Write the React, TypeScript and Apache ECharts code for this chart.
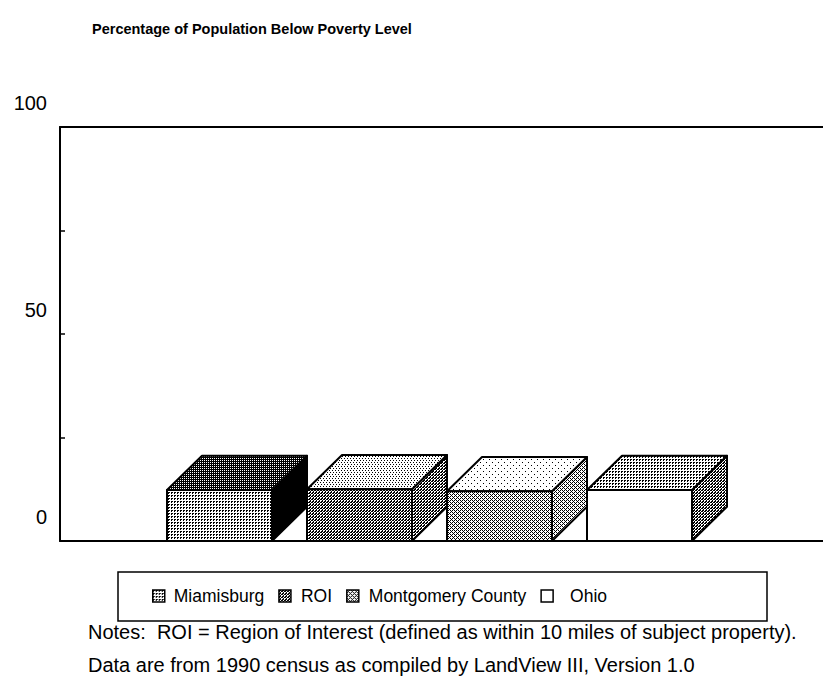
import React, { useEffect, useRef } from "react";
import * as echarts from "echarts";

const TITLE = "Percentage of Population Below Poverty Level";
const categories = ["Miamisburg", "ROI", "Montgomery County", "Ohio"];
const povertyPct = [12.3, 12.5, 12.0, 12.3];
const yMin = 0;
const yMax = 100;
const yInterval = 25;
const yLabelValues = [0, 50, 100];
const notes = [
  "Notes:  ROI = Region of Interest (defined as within 10 miles of subject property).",
  "Data are from 1990 census as compiled by LandView III, Version 1.0",
];

const FONT = "'Liberation Sans', Arial, Helvetica, sans-serif";

const TILES: Record<string, string[]> = {
  white: ["."],
  black: ["#"],
  speck: ["#.....", "......", "......", "...#..", "......", "......"],
  light: ["#..", "...", "..#", "..."],
  p30: ["##.", "#..", "..."],
  p45: ["#.#.", ".#..", "#.#.", "...#"],
  p55: ["##.", "#.#", ".#."],
  p70: [".#", "##"],
};

function makePattern(rows: string[]) {
  const h = rows.length;
  const w = rows[0].length;
  const c = document.createElement("canvas");
  c.width = w;
  c.height = h;
  const ctx = c.getContext("2d")!;
  ctx.fillStyle = "#ffffff";
  ctx.fillRect(0, 0, w, h);
  ctx.fillStyle = "#000000";
  rows.forEach((r, y) =>
    r.split("").forEach((ch, x) => {
      if (ch === "#") ctx.fillRect(x, y, 1, 1);
    })
  );
  return { image: c, repeat: "repeat" } as any;
}

// [front, top, side] texture per category
const faceTiles = [
  ["p30", "p70", "black"],
  ["p55", "light", "p55"],
  ["p45", "speck", "p45"],
  ["white", "p30", "p55"],
];

export default function App() {
  const ref = useRef<HTMLDivElement>(null);
  useEffect(() => {
    if (!ref.current) return;
    const chart = echarts.init(ref.current, undefined, { renderer: "svg" });
    const pats = faceTiles.map((f) => f.map((k) => makePattern(TILES[k])));

    const renderItem = (params: any, api: any) => {
      const idx = api.value(0);
      const val = api.value(1);
      const base = api.coord([idx, 0]);
      const top = api.coord([idx, val]);
      const band = api.size([1, 0])[0];
      const w = band * 0.75;
      const dx = band * 0.25;
      const dy = band * 0.245;
      const x0 = base[0] - w / 2;
      const x1 = x0 + w;
      const yb = base[1];
      const yt = top[1];
      const p = pats[params.seriesIndex];
      const stroke = { stroke: "#000", lineWidth: 2, lineJoin: "round" };
      return {
        type: "group",
        children: [
          {
            type: "polygon",
            shape: { points: [[x1, yt], [x1 + dx, yt - dy], [x1 + dx, yb - dy], [x1, yb]] },
            style: { fill: p[2], ...stroke },
          },
          {
            type: "polygon",
            shape: { points: [[x0, yt], [x0 + dx, yt - dy], [x1 + dx, yt - dy], [x1, yt]] },
            style: { fill: p[1], ...stroke },
          },
          {
            type: "rect",
            shape: { x: x0, y: yt, width: w, height: yb - yt },
            style: { fill: p[0], ...stroke },
          },
        ],
      };
    };

    const series = categories.map((name, i) => ({
      type: "custom",
      name,
      xAxisIndex: 2,
      yAxisIndex: 1,
      clip: false,
      itemStyle: { color: pats[i][0], borderColor: "#000", borderWidth: 1.5 },
      renderItem,
      data: [[i, povertyPct[i]]],
    }));

    const frameLine = { show: true, lineStyle: { color: "#000", width: 2 } };

    chart.setOption({
      animation: false,
      backgroundColor: "#fff",
      textStyle: { fontFamily: FONT },
      grid: [
        { left: 60, top: 127, right: 0, bottom: 148, show: false },
        { left: 149.5, top: 127, width: 560, bottom: 148, show: false },
      ],
      xAxis: [
        {
          type: "category", gridIndex: 0, data: categories, position: "bottom",
          axisLine: frameLine, axisTick: { show: false }, axisLabel: { show: false },
        },
        {
          type: "category", gridIndex: 0, data: categories, position: "top",
          axisLine: frameLine, axisTick: { show: false }, axisLabel: { show: false },
        },
        { type: "category", gridIndex: 1, data: categories, show: false },
      ],
      yAxis: [
        {
          type: "value",
          gridIndex: 0,
          min: yMin,
          max: yMax,
          interval: yInterval,
          axisLine: frameLine,
          axisTick: { show: true, inside: true, length: 5, lineStyle: { color: "#000", width: 1.5 } },
          splitLine: { show: false },
          axisLabel: {
            show: true,
            color: "#000",
            fontSize: 20,
            fontFamily: FONT,
            margin: 13,
            verticalAlign: "bottom",
            lineHeight: 48,
            formatter: (v: number) => (yLabelValues.indexOf(v) >= 0 ? String(v) : ""),
          },
        },
        { type: "value", gridIndex: 1, min: yMin, max: yMax, show: false },
      ],
      legend: {
        data: [
          { name: categories[0], textStyle: { padding: [0, 7, 0, 4] } },
          { name: categories[1], textStyle: { padding: [0, 0, 0, 5] } },
          { name: categories[2], textStyle: { padding: [0, 9, 0, 5] } },
          { name: categories[3], textStyle: { padding: [0, 0, 0, 12] } },
        ],
        left: 152,
        top: 587,
        icon: "rect",
        itemWidth: 12,
        itemHeight: 12,
        itemGap: 14,
        padding: 0,
        itemStyle: { borderColor: "#000", borderWidth: 1.5 },
        textStyle: { color: "#000", fontSize: 17.5, fontFamily: FONT },
        selectedMode: false,
      },
      graphic: [
        {
          type: "text",
          left: 92,
          top: 21,
          style: { text: TITLE, font: `bold 14.5px ${FONT}`, fill: "#000" },
        },
        {
          type: "rect",
          shape: { x: 118, y: 572, width: 649, height: 49 },
          style: { fill: "none", stroke: "#000", lineWidth: 1.5 },
        },
        {
          type: "text",
          left: 88,
          top: 622,
          style: { text: notes[0], font: `20px ${FONT}`, fill: "#000" },
        },
        {
          type: "text",
          left: 88,
          top: 655,
          style: { text: notes[1], font: `20px ${FONT}`, fill: "#000" },
        },
      ],
      series,
    });
    return () => chart.dispose();
  }, []);
  return (
    <div
      ref={ref}
      style={{ position: "fixed", left: 0, top: 0, width: 823, height: 689, background: "#fff" }}
    />
  );
}
